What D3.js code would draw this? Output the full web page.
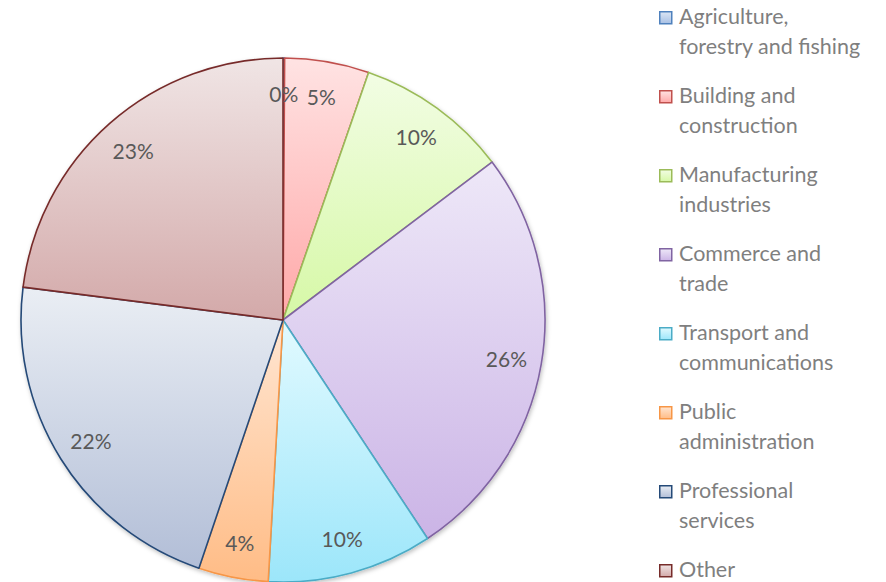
<!DOCTYPE html>
<html>
<head>
<meta charset="utf-8">
<script src="https://cdn.jsdelivr.net/npm/d3@7"></script>
<style>
  body { margin: 0; background: #fff; }
  svg { display: block; }
</style>
</head>
<body>
<script>
// slice data (percent)
const categories = ["Agriculture, forestry and fishing", "Building and construction",
  "Manufacturing industries", "Commerce and trade", "Transport and communications",
  "Public administration", "Professional services", "Other"];
const values = [0.1, 5.2, 9.4, 26.0, 10.2, 4.3, 21.8, 23.0];
const valueLabels = ["0%", "5%", "10%", "26%", "10%", "4%", "22%", "23%"];
const legendLines = [["Agriculture,", "forestry and fishing"], ["Building and", "construction"],
  ["Manufacturing", "industries"], ["Commerce and", "trade"], ["Transport and", "communications"],
  ["Public", "administration"], ["Professional", "services"], ["Other"]];

const strokes = ["#4F81BD", "#C0504D", "#9BBB59", "#8064A2", "#4BACC6", "#F79646", "#254A78", "#772C2A"];
const fillTop = ["#DCE6F4", "#FFE3E3", "#F2FDE4", "#EEE8F8", "#E2FAFF", "#FFE6D2", "#EAEEF4", "#F0E5E5"];
const fillBottom = ["#A8C0E4", "#FFA8A8", "#D6F8A6", "#CBB4E6", "#9CE6FA", "#FFBC86", "#B2BED7", "#D3A9A9"];

const W = 886, H = 582;
const cx = 283, cy = 320, R = 262;

const svg = d3.select("body").append("svg")
  .attr("width", W)
  .attr("height", H);

const defs = svg.append("defs");

categories.forEach((c, i) => {
  const g = defs.append("linearGradient")
    .attr("id", "grad" + i)
    .attr("x1", 0).attr("y1", 0).attr("x2", 0).attr("y2", 1);
  g.append("stop").attr("offset", "0%").attr("stop-color", fillTop[i]);
  g.append("stop").attr("offset", "100%").attr("stop-color", fillBottom[i]);
});

const shadow = defs.append("filter")
  .attr("id", "shadow")
  .attr("x", "-10%").attr("y", "-10%").attr("width", "120%").attr("height", "120%");
shadow.append("feDropShadow")
  .attr("dx", 1).attr("dy", 2).attr("stdDeviation", 2)
  .attr("flood-color", "#000").attr("flood-opacity", 0.25);

const pie = d3.pie().sort(null).value(d => d);
const arcs = pie(values);

const arc = d3.arc().innerRadius(0).outerRadius(R);
const labelArc = d3.arc().innerRadius(R * 0.865).outerRadius(R * 0.865);

const chart = svg.append("g")
  .attr("transform", "translate(" + cx + "," + cy + ")");

const slices = chart.append("g").attr("filter", "url(#shadow)");

slices.selectAll("path")
  .data(arcs)
  .enter().append("path")
  .attr("d", arc)
  .attr("fill", (d, i) => "url(#grad" + i + ")")
  .attr("stroke", (d, i) => strokes[i])
  .attr("stroke-width", 1.6)
  .attr("stroke-linejoin", "round");

chart.selectAll(".lbl")
  .data(arcs)
  .enter().append("text")
  .attr("class", "lbl")
  .attr("transform", d => "translate(" + labelArc.centroid(d) + ")")
  .attr("text-anchor", "middle")
  .attr("dominant-baseline", "central")
  .style("font", "21px Lato, 'Open Sans', sans-serif")
  .attr("fill", "#595959")
  .text((d, i) => valueLabels[i]);

// legend
const legend = svg.append("g");
const item = legend.selectAll("g")
  .data(categories)
  .enter().append("g")
  .attr("transform", (d, i) => "translate(659," + (11 + i * 79) + ")");

item.append("rect")
  .attr("x", 0.75).attr("y", 0.75)
  .attr("width", 12).attr("height", 12)
  .attr("fill", (d, i) => "url(#grad" + i + ")")
  .attr("stroke", (d, i) => strokes[i])
  .attr("stroke-width", 1.5);

item.append("text")
  .attr("x", 20)
  .attr("y", 5)
  .attr("dominant-baseline", "central")
  .style("font", "21.5px Lato, 'Open Sans', sans-serif")
  .attr("fill", "#7F7F7F")
  .selectAll("tspan")
  .data((d, i) => legendLines[i])
  .enter().append("tspan")
  .attr("x", 20)
  .attr("dy", (d, j) => j === 0 ? 0 : 30)
  .text(d => d);
</script>
</body>
</html>
